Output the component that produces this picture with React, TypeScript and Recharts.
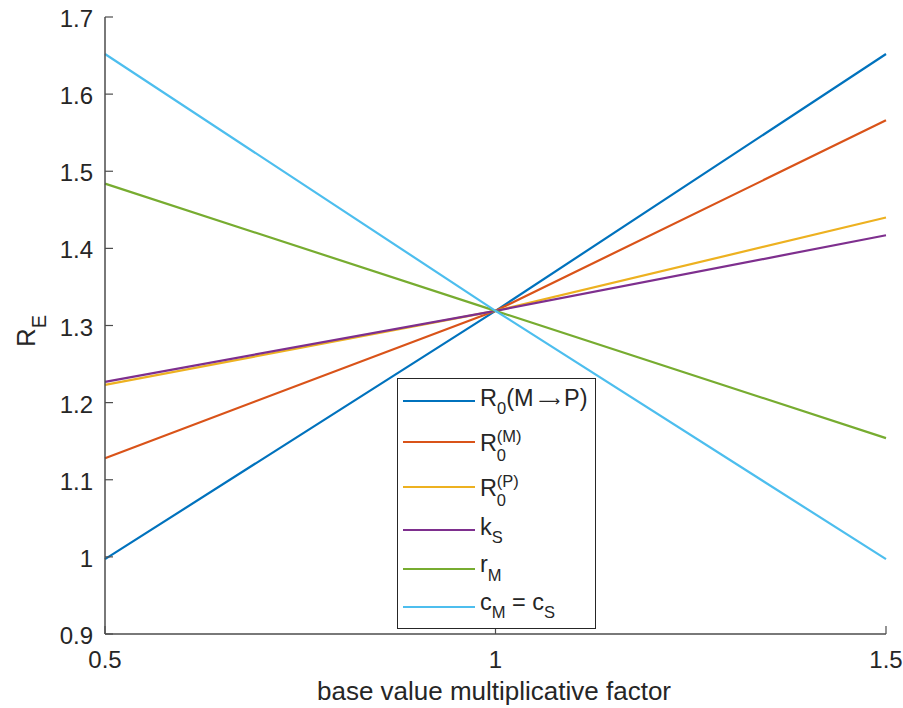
import { LineChart, Line, XAxis, YAxis, Legend } from 'recharts'

// sweep of the base value factor
const factors = [0.5, 1, 1.5]

// R_E
const r0MtoP = [0.997, 1.319, 1.652]
const r0M = [1.128, 1.319, 1.566]
const r0P = [1.223, 1.319, 1.44]
const kS = [1.227, 1.319, 1.417]
const rM = [1.484, 1.319, 1.154]
const cMcS = [1.652, 1.319, 0.997]

const xTicks = [0.5, 1, 1.5]
const yTicks = [0.9, 1.0, 1.1, 1.2, 1.3, 1.4, 1.5, 1.6, 1.7]
const yTickLabels = ['0.9', '1', '1.1', '1.2', '1.3', '1.4', '1.5', '1.6', '1.7']

const series = [
  { key: 'r0MtoP', values: r0MtoP, color: '#0072BD' },
  { key: 'r0M', values: r0M, color: '#D95319' },
  { key: 'r0P', values: r0P, color: '#EDB120' },
  { key: 'kS', values: kS, color: '#7E2F8E' },
  { key: 'rM', values: rM, color: '#77AC30' },
  { key: 'cMcS', values: cMcS, color: '#4DBEEE' },
]

const data = factors.map((x, i) => {
  const row: Record<string, number> = { x }
  series.forEach((s) => {
    row[s.key] = s.values[i]
  })
  return row
})

const FONT = '"Liberation Sans", Arial, Helvetica, sans-serif'
const INK = '#262626'
const AXIS = '#4d4d4d'
const TICK_LEN = 8

const BottomTick = (props: any) => {
  const { x, y, payload } = props
  return (
    <g>
      <line x1={x} y1={y} x2={x} y2={y - TICK_LEN} stroke={AXIS} strokeWidth={1.2} />
      <text x={x} y={y + 34} textAnchor="middle" fontSize={24} fill={INK} fontFamily={FONT}>
        {String(payload.value)}
      </text>
    </g>
  )
}

const TopTick = (props: any) => {
  const { x, y } = props
  return <line x1={x} y1={y} x2={x} y2={y + TICK_LEN} stroke={AXIS} strokeWidth={1.2} />
}

const LeftTick = (props: any) => {
  const { x, y, payload, index } = props
  return (
    <g>
      <line x1={x} y1={y} x2={x + TICK_LEN} y2={y} stroke={AXIS} strokeWidth={1.2} />
      <text x={x - 12} y={y + 10} textAnchor="end" fontSize={24} fill={INK} fontFamily={FONT}>
        {yTickLabels[index] ?? String(payload.value)}
      </text>
    </g>
  )
}

const RightTick = (props: any) => {
  const { x, y } = props
  return <line x1={x} y1={y} x2={x - TICK_LEN} y2={y} stroke={AXIS} strokeWidth={1.2} />
}

const XLabel = () => (
  <text x={494} y={700} textAnchor="middle" fontSize={26} fill={INK} fontFamily={FONT}>
    base value multiplicative factor
  </text>
)

const YLabel = () => (
  <text
    transform="translate(35, 331) rotate(-90)"
    textAnchor="middle"
    fontSize={26}
    fill={INK}
    fontFamily={FONT}
  >
    R
    <tspan fontSize={20} dy={11}>
      E
    </tspan>
  </text>
)

const LegendBox = () => {
  const rowY = [23, 64, 109, 152, 191, 229]
  const tx = 83
  const big = 23.5
  const small = 16.5
  return (
    <svg width={199} height={251} style={{ display: 'block', overflow: 'visible' }}>
      <rect x={0.5} y={0.5} width={198} height={250} fill="#fff" stroke={INK} strokeWidth={1} />
      {series.map((s, i) => (
        <line key={s.key} x1={6} x2={78} y1={rowY[i]} y2={rowY[i]} stroke={s.color} strokeWidth={2.2} />
      ))}
      <g fontFamily={FONT} fill={INK}>
        <text x={tx} y={rowY[0] + 5} fontSize={big}>
          R
          <tspan fontSize={small} dy={8}>0</tspan>
          <tspan dy={-8}>(M</tspan>
          <tspan fontFamily='"DejaVu Sans", sans-serif' fontSize={15} dx={5}>⟶</tspan>
          <tspan dx={4}>P)</tspan>
        </text>

        <text x={tx} y={rowY[1] + 9} fontSize={big}>R</text>
        <text x={tx + 16.8} y={rowY[1]} fontSize={small}>(M)</text>
        <text x={tx + 16.8} y={rowY[1] + 19} fontSize={small}>0</text>

        <text x={tx} y={rowY[2] + 9} fontSize={big}>R</text>
        <text x={tx + 16.8} y={rowY[2]} fontSize={small}>(P)</text>
        <text x={tx + 16.8} y={rowY[2] + 19} fontSize={small}>0</text>

        <text x={tx} y={rowY[3] + 5} fontSize={big}>
          k
          <tspan fontSize={small} dy={8}>S</tspan>
        </text>

        <text x={tx} y={rowY[4] + 3} fontSize={big}>
          r
          <tspan fontSize={small} dy={9}>M</tspan>
        </text>

        <text x={tx} y={rowY[5] + 3} fontSize={big}>
          c
          <tspan fontSize={small} dy={8}>M</tspan>
          <tspan dy={-8}> = c</tspan>
          <tspan fontSize={small} dy={8}>S</tspan>
        </text>
      </g>
    </svg>
  )
}

export default function App() {
  return (
    <div
      style={{
        position: 'fixed',
        left: 0,
        top: 0,
        width: 903,
        height: 708,
        background: '#fff',
        fontFamily: FONT,
      }}
    >
      <LineChart width={903} height={708} data={data} margin={{ top: 17, right: 17, left: 0, bottom: 0 }}>
        <XAxis
          dataKey="x"
          type="number"
          domain={[0.5, 1.5]}
          ticks={xTicks}
          height={74}
          tickSize={0}
          tickMargin={0}
          axisLine={{ stroke: AXIS, strokeWidth: 1.5 }}
          tickLine={false}
          tick={BottomTick}
          interval={0}
          label={<XLabel />}
        />
        <XAxis
          xAxisId="top"
          orientation="top"
          type="number"
          domain={[0.5, 1.5]}
          ticks={xTicks}
          height={0}
          tickSize={0}
          tickMargin={0}
          axisLine={{ stroke: AXIS, strokeWidth: 1.5 }}
          tickLine={false}
          tick={TopTick}
          interval={0}
        />
        <YAxis
          type="number"
          domain={[0.9, 1.7]}
          ticks={yTicks}
          width={105}
          tickSize={0}
          tickMargin={0}
          axisLine={{ stroke: AXIS, strokeWidth: 1.5 }}
          tickLine={false}
          tick={LeftTick}
          interval={0}
          label={<YLabel />}
        />
        <YAxis
          yAxisId="right"
          orientation="right"
          type="number"
          domain={[0.9, 1.7]}
          ticks={yTicks}
          width={0}
          tickSize={0}
          tickMargin={0}
          axisLine={{ stroke: AXIS, strokeWidth: 1.5 }}
          tickLine={false}
          tick={RightTick}
          interval={0}
        />
        {series.map((s) => (
          <Line
            key={s.key}
            dataKey={s.key}
            stroke={s.color}
            strokeWidth={2.2}
            dot={false}
            activeDot={false}
            type="linear"
            isAnimationActive={false}
          />
        ))}
        <Legend
          layout="vertical"
          align="center"
          verticalAlign="middle"
          content={<LegendBox />}
          wrapperStyle={{ position: 'absolute', left: 397, top: 378, width: 199, height: 251 }}
        />
      </LineChart>
    </div>
  )
}
